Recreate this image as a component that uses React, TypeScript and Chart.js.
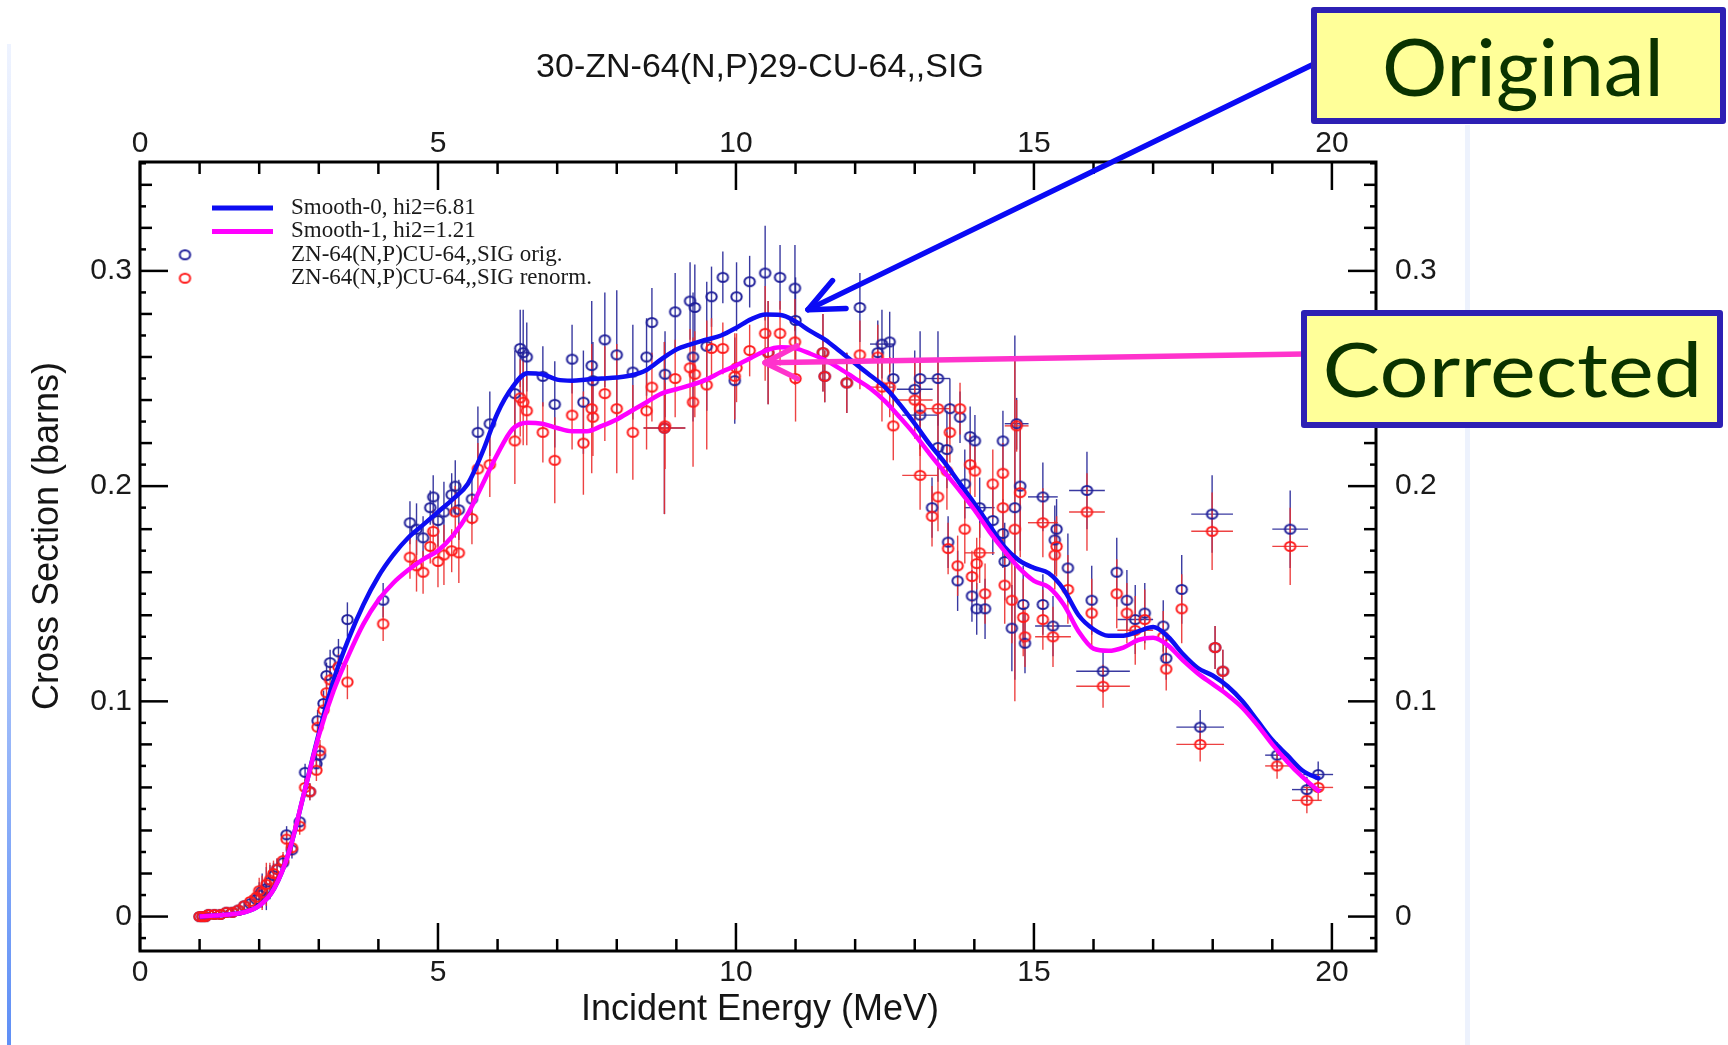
import React, { useEffect, useRef } from 'react';
import { Chart, registerables } from 'chart.js';

Chart.register(...registerables);

// ---------------- texts ----------------
const chartTitle = '30-ZN-64(N,P)29-CU-64,,SIG';
const xAxisTitle = 'Incident Energy (MeV)';
const yAxisTitle = 'Cross Section (barns)';
const legendLabels = [
  'Smooth-0, hi2=6.81',
  'Smooth-1, hi2=1.21',
  'ZN-64(N,P)CU-64,,SIG orig.',
  'ZN-64(N,P)CU-64,,SIG renorm.',
];
const annotationLabels = ['Original', 'Corrected'];
// arrow tips, in data units (energy, cross section)
const annotationTipE = [11.21, 10.49];
const annotationTipSig = [0.282, 0.2573];

// ---------------- axis ranges / ticks ----------------
const xRange = [0, 20.74];
const yRange = [-0.016, 0.3506];
const xMajorStep = 5;
const yMajorStep = 0.1;

// ---------------- smooth curves ----------------
const smoothEnergy = [
  1.0, 1.25, 1.5, 1.75, 2.0, 2.25, 2.5, 2.75, 3.0, 3.25,
  3.5, 3.75, 4.0, 4.25, 4.5, 4.75, 5.0, 5.25, 5.5, 5.75,
  6.0, 6.25, 6.5, 6.75, 7.0, 7.25, 7.5, 7.75, 8.0, 8.25,
  8.5, 8.75, 9.0, 9.25, 9.5, 9.75, 10.0, 10.25, 10.5, 10.75,
  11.0, 11.25, 11.5, 11.75, 12.0, 12.25, 12.5, 12.75, 13.0, 13.25,
  13.5, 13.75, 14.0, 14.25, 14.5, 14.75, 15.0, 15.25, 15.5, 15.75,
  16.0, 16.25, 16.5, 16.75, 17.0, 17.25, 17.5, 17.75, 18.0, 18.25,
  18.5, 18.75, 19.0, 19.25, 19.5, 19.75, 19.8,
];
const smooth0 = [
  0.0, 0.0005, 0.001, 0.002, 0.005, 0.013, 0.03, 0.057, 0.085, 0.11,
  0.129, 0.145, 0.158, 0.168, 0.176, 0.182, 0.188, 0.194, 0.201, 0.216,
  0.234, 0.246, 0.2525, 0.252, 0.2495, 0.249, 0.2495, 0.25, 0.2505, 0.2515,
  0.254, 0.259, 0.2635, 0.266, 0.268, 0.27, 0.2735, 0.2775, 0.2797, 0.2795,
  0.2765, 0.272, 0.268, 0.2625, 0.257, 0.2515, 0.246, 0.238, 0.229, 0.2195,
  0.211, 0.2015, 0.192, 0.182, 0.172, 0.1655, 0.162, 0.1595, 0.152, 0.14,
  0.1335, 0.1305, 0.1305, 0.1325, 0.1345, 0.13, 0.122, 0.1155, 0.112, 0.107,
  0.1, 0.091, 0.082, 0.075, 0.068, 0.0645, 0.064,
];
const smooth1 = [
  0.0, 0.0005, 0.001, 0.002, 0.005, 0.013, 0.03, 0.057, 0.084, 0.105,
  0.1215, 0.136, 0.147, 0.155, 0.161, 0.166, 0.17, 0.177, 0.187, 0.201,
  0.215, 0.2265, 0.2295, 0.229, 0.227, 0.2255, 0.2255, 0.228, 0.231, 0.235,
  0.239, 0.243, 0.245, 0.247, 0.2495, 0.253, 0.256, 0.2595, 0.263, 0.2645,
  0.264, 0.2615, 0.2585, 0.2545, 0.25, 0.2455, 0.2395, 0.232, 0.224, 0.215,
  0.2065, 0.198, 0.189, 0.179, 0.17, 0.162, 0.156, 0.153, 0.145, 0.1325,
  0.1245, 0.1235, 0.125, 0.1285, 0.1295, 0.126, 0.119, 0.113, 0.108, 0.103,
  0.097, 0.089, 0.08, 0.072, 0.065, 0.059, 0.058,
];

// ---------------- experimental data ----------------
const expEnergy = [
  1.0, 1.05, 1.1, 1.15, 1.25, 1.35, 1.45, 1.55, 1.65, 1.75,
  1.85, 1.95, 2.0, 2.05, 2.12, 2.18, 2.24, 2.3, 2.4, 2.46,
  2.55, 2.68, 2.77, 2.85, 2.96, 3.02, 2.98, 3.08, 3.13, 3.19,
  3.33, 3.48, 4.08, 4.53, 4.64, 4.75, 4.87, 4.92, 5.0, 5.1,
  5.23, 5.29, 5.35, 5.57, 5.67, 5.87, 6.29, 6.38, 6.43, 6.49,
  6.76, 6.96, 7.25, 7.44, 7.58, 7.6, 7.8, 8.0, 8.27, 8.5,
  8.59, 8.81, 8.8, 8.98, 9.23, 9.28, 9.31, 9.51, 9.59, 9.78,
  9.98, 10.01, 10.23, 10.49, 10.54, 10.74, 10.99, 11.0, 11.46, 11.49,
  11.86, 12.08, 12.38, 12.45, 12.58, 12.64, 13.0, 13.09, 13.09, 13.29,
  13.39, 13.39, 13.54, 13.56, 13.59, 13.72, 13.76, 13.84, 13.93, 13.96,
  14.01, 14.04, 14.09, 14.18, 14.31, 14.48, 14.48, 14.51, 14.63, 14.71,
  14.77, 14.68, 14.82, 14.85, 15.15, 15.15, 15.35, 15.38, 15.32, 15.57,
  15.89, 15.97, 16.16, 16.39, 16.56, 16.7, 16.86, 17.17, 17.22, 17.48,
  17.79, 17.99, 18.04, 18.17, 19.08, 19.3, 19.58, 19.77,
];
const sigOrig = [
  0.0, 0.0, 0.0, 0.001, 0.001, 0.001, 0.002, 0.002, 0.003, 0.005,
  0.006, 0.008, 0.01, 0.012, 0.013, 0.016, 0.019, 0.022, 0.025, 0.038,
  0.031, 0.044, 0.067, 0.058, 0.071, 0.075, 0.091, 0.099, 0.112, 0.118,
  0.123, 0.138, 0.147, 0.183, 0.18, 0.176, 0.19, 0.195, 0.184, 0.188,
  0.196, 0.2, 0.189, 0.194, 0.225, 0.229, 0.243, 0.264, 0.262, 0.26,
  0.251, 0.238, 0.259, 0.239, 0.256, 0.249, 0.268, 0.261, 0.253, 0.26,
  0.276, 0.252, 0.227, 0.281, 0.286, 0.26, 0.283, 0.265, 0.288, 0.297,
  0.249, 0.288, 0.295, 0.299, 0.262, 0.297, 0.292, 0.277, 0.262, 0.251,
  0.248, 0.283, 0.262, 0.266, 0.267, 0.25, 0.245, 0.25, 0.233, 0.19,
  0.25, 0.218, 0.217, 0.174, 0.236, 0.156, 0.232, 0.201, 0.223, 0.149,
  0.221, 0.143, 0.19, 0.143, 0.184, 0.221, 0.178, 0.165, 0.134, 0.229,
  0.2, 0.19, 0.145, 0.127, 0.195, 0.145, 0.175, 0.18, 0.135, 0.162,
  0.198, 0.147, 0.114, 0.16, 0.147, 0.138, 0.141, 0.135, 0.12, 0.152,
  0.088, 0.187, 0.125, 0.114, 0.075, 0.18, 0.059, 0.066,
];
const sigRenorm = [
  0.0, 0.0, 0.0, 0.001, 0.001, 0.001, 0.002, 0.002, 0.003, 0.005,
  0.007, 0.009, 0.012, 0.011, 0.015, 0.017, 0.02, 0.022, 0.026, 0.036,
  0.032, 0.042, 0.06, 0.058, 0.068, 0.077, 0.088, 0.096, 0.104, 0.11,
  0.116, 0.109, 0.136, 0.167, 0.163, 0.16, 0.172, 0.179, 0.165, 0.168,
  0.17, 0.188, 0.169, 0.185, 0.208, 0.21, 0.221, 0.241, 0.239, 0.235,
  0.225, 0.212, 0.233, 0.22, 0.236, 0.232, 0.243, 0.236, 0.225, 0.235,
  0.246, 0.228, 0.227, 0.25, 0.255, 0.239, 0.252, 0.247, 0.264, 0.264,
  0.251, 0.255, 0.263, 0.271, 0.262, 0.271, 0.267, 0.25, 0.262, 0.251,
  0.248, 0.261, 0.26, 0.246, 0.246, 0.228, 0.24, 0.236, 0.205, 0.186,
  0.236, 0.195, 0.207, 0.171, 0.225, 0.163, 0.236, 0.18, 0.21, 0.158,
  0.207, 0.164, 0.169, 0.15, 0.201, 0.206, 0.19, 0.154, 0.147, 0.228,
  0.197, 0.18, 0.139, 0.13, 0.183, 0.138, 0.168, 0.172, 0.13, 0.152,
  0.188, 0.141, 0.107, 0.15, 0.141, 0.133, 0.138, 0.13, 0.115, 0.143,
  0.08, 0.179, 0.125, 0.114, 0.07, 0.172, 0.054, 0.06,
];
const errSig = [
  0.001, 0.001, 0.001, 0.001, 0.001, 0.001, 0.001, 0.002, 0.002, 0.002,
  0.003, 0.004, 0.006, 0.008, 0.01, 0.008, 0.006, 0.005, 0.004, 0.004,
  0.004, 0.004, 0.004, 0.004, 0.005, 0.005, 0.005, 0.006, 0.006, 0.006,
  0.006, 0.008, 0.008, 0.01, 0.012, 0.01, 0.008, 0.01, 0.012, 0.014,
  0.01, 0.012, 0.014, 0.012, 0.012, 0.015, 0.02, 0.018, 0.02, 0.016,
  0.014, 0.02, 0.016, 0.024, 0.03, 0.018, 0.022, 0.03, 0.022, 0.018,
  0.016, 0.02, 0.04, 0.018, 0.018, 0.03, 0.02, 0.03, 0.014, 0.012,
  0.02, 0.016, 0.012, 0.022, 0.024, 0.015, 0.02, 0.02, 0.018, 0.012,
  0.014, 0.016, 0.015, 0.016, 0.014, 0.016, 0.018, 0.022, 0.016, 0.014,
  0.022, 0.016, 0.018, 0.012, 0.014, 0.014, 0.012, 0.016, 0.014, 0.012,
  0.012, 0.012, 0.014, 0.014, 0.016, 0.014, 0.016, 0.018, 0.02, 0.012,
  0.03, 0.08, 0.018, 0.014, 0.016, 0.014, 0.016, 0.014, 0.014, 0.016,
  0.018, 0.016, 0.01, 0.016, 0.014, 0.016, 0.014, 0.012, 0.01, 0.016,
  0.008, 0.018, 0.01, 0.01, 0.006, 0.018, 0.006, 0.006,
];
const errEnergy = [
  0, 0, 0, 0, 0, 0, 0, 0, 0, 0,
  0, 0, 0, 0, 0, 0, 0, 0, 0, 0,
  0, 0, 0, 0, 0, 0, 0, 0, 0, 0,
  0, 0, 0, 0, 0, 0, 0, 0, 0, 0,
  0, 0, 0, 0, 0, 0, 0, 0, 0, 0,
  0, 0, 0, 0, 0, 0, 0, 0, 0, 0,
  0, 0, 0.35, 0, 0, 0, 0, 0, 0, 0,
  0, 0, 0, 0, 0, 0, 0, 0, 0, 0,
  0, 0, 0, 0.2, 0, 0, 0.3, 0, 0.3, 0,
  0.2, 0, 0, 0, 0, 0, 0, 0, 0, 0,
  0, 0, 0.25, 0, 0, 0, 0, 0, 0, 0.2,
  0, 0, 0, 0, 0.25, 0, 0, 0, 0.3, 0,
  0.3, 0, 0.45, 0, 0, 0.3, 0, 0, 0, 0,
  0.4, 0.35, 0, 0, 0.2, 0.3, 0.25, 0.25,
];

// ---------------- colours ----------------
const blueLine = '#0d0df2';
const magentaLine = '#ff00ff';
const bluePoint = '#20209a';
const redPoint = '#ff1a1a';
const blueErr = 'rgba(35,35,150,0.9)';
const redErr = 'rgba(235,45,45,0.9)';

function makeRing(color: string): HTMLCanvasElement {
  const c = document.createElement('canvas');
  c.width = 15;
  c.height = 13;
  const g = c.getContext('2d')!;
  g.strokeStyle = color;
  g.lineWidth = 2;
  g.beginPath();
  g.ellipse(7.5, 6.5, 5.2, 4.5, 0, 0, Math.PI * 2);
  g.stroke();
  return c;
}

function seg(ctx: CanvasRenderingContext2D, x1: number, y1: number, x2: number, y2: number) {
  ctx.beginPath();
  ctx.moveTo(x1, y1);
  ctx.lineTo(x2, y2);
  ctx.stroke();
}

function fitText(
  ctx: CanvasRenderingContext2D, text: string, left: number, baseline: number,
  width: number, font: string, color: string,
) {
  ctx.save();
  ctx.font = font;
  ctx.fillStyle = color;
  ctx.textAlign = 'left';
  ctx.textBaseline = 'alphabetic';
  const m = ctx.measureText(text);
  const ink = m.actualBoundingBoxRight + m.actualBoundingBoxLeft;
  const sx = width / ink;
  ctx.translate(left, baseline);
  ctx.scale(sx, 1);
  ctx.fillText(text, m.actualBoundingBoxLeft, 0);
  ctx.restore();
}

function drawArrow(
  ctx: CanvasRenderingContext2D, sx: number, sy: number, tx: number, ty: number,
  color: string, width: number, armLen: number, armAngleDeg: number,
) {
  ctx.save();
  ctx.strokeStyle = color;
  ctx.lineWidth = width;
  ctx.lineCap = 'round';
  ctx.lineJoin = 'round';
  seg(ctx, sx, sy, tx, ty);
  const ang = Math.atan2(sy - ty, sx - tx);
  const a = (armAngleDeg * Math.PI) / 180;
  for (const s of [-1, 1]) {
    const b = ang + s * a;
    seg(ctx, tx, ty, tx + armLen * Math.cos(b), ty + armLen * Math.sin(b));
  }
  ctx.restore();
}

function drawBox(ctx: CanvasRenderingContext2D, x1: number, y1: number, x2: number, y2: number) {
  ctx.save();
  const bw = 6;
  ctx.fillStyle = '#ffff99';
  ctx.strokeStyle = '#2d20b4';
  ctx.lineWidth = bw;
  ctx.lineJoin = 'round';
  const x = x1 + bw / 2, y = y1 + bw / 2, w = x2 - x1 - bw, h = y2 - y1 - bw;
  ctx.beginPath();
  ctx.rect(x, y, w, h);
  ctx.fill();
  ctx.stroke();
  ctx.restore();
}

export default function App() {
  const ref = useRef<HTMLCanvasElement>(null);

  useEffect(() => {
    const canvas = ref.current;
    if (!canvas) return;
    const ringBlue = makeRing(bluePoint);
    const ringRed = makeRing(redPoint);

    const origPts = expEnergy.map((e, i) => ({ x: e, y: sigOrig[i] }));
    const renormPts = expEnergy.map((e, i) => ({ x: e, y: sigRenorm[i] }));
    const s0 = smoothEnergy.map((e, i) => ({ x: e, y: smooth0[i] }));
    const s1 = smoothEnergy.map((e, i) => ({ x: e, y: smooth1[i] }));

    const sans = '"Liberation Sans", Arial, sans-serif';

    const decor = {
      id: 'decor',
      beforeDraw(chart: any) {
        const { ctx, width, height } = chart;
        ctx.save();
        ctx.fillStyle = '#ffffff';
        ctx.fillRect(0, 0, width, height);
        const g = ctx.createLinearGradient(0, 44, 0, height);
        g.addColorStop(0, '#eef3ff');
        g.addColorStop(0.5, '#bcd0fb');
        g.addColorStop(1, '#5f8ff6');
        ctx.fillStyle = g;
        ctx.fillRect(7, 44, 4, height - 44);
        ctx.fillStyle = '#edf2fd';
        ctx.fillRect(1465, 125, 5, height - 125);
        ctx.restore();
      },
      beforeDatasetsDraw(chart: any) {
        const { ctx, chartArea } = chart;
        const xs = chart.scales.x;
        const ys = chart.scales.y;
        ctx.save();
        ctx.beginPath();
        ctx.rect(chartArea.left, chartArea.top, chartArea.right - chartArea.left, chartArea.bottom - chartArea.top);
        ctx.clip();
        ctx.lineWidth = 1.4;
        const series: [number[], string][] = [[sigOrig, blueErr], [sigRenorm, redErr]];
        for (const [vals, col] of series) {
          ctx.strokeStyle = col;
          for (let i = 0; i < expEnergy.length; i++) {
            const px = xs.getPixelForValue(expEnergy[i]);
            const py = ys.getPixelForValue(vals[i]);
            const dy = errSig[i];
            if (dy > 0) seg(ctx, px, ys.getPixelForValue(vals[i] + dy), px, ys.getPixelForValue(vals[i] - dy));
            const dx = errEnergy[i];
            if (dx > 0) seg(ctx, xs.getPixelForValue(expEnergy[i] - dx), py, xs.getPixelForValue(expEnergy[i] + dx), py);
          }
        }
        ctx.restore();
      },
      afterDatasetsDraw(chart: any) {
        const { ctx, chartArea } = chart;
        const { left, right, top, bottom } = chartArea;
        const xs = chart.scales.x;
        const ys = chart.scales.y;
        ctx.save();
        ctx.strokeStyle = '#000';
        ctx.lineWidth = 3;
        ctx.strokeRect(left, top, right - left, bottom - top);
        ctx.lineWidth = 2.5;
        for (let v = Math.ceil(xRange[0]); v <= Math.floor(xRange[1]); v++) {
          const px = xs.getPixelForValue(v);
          const len = v % xMajorStep === 0 ? 28 : 12;
          seg(ctx, px, bottom, px, bottom - len);
          seg(ctx, px, top, px, top + len);
        }
        for (let i = -1; i <= 35; i++) {
          const v = i / 100;
          const py = ys.getPixelForValue(v);
          const len = i % 10 === 0 ? 28 : i % 2 === 0 ? 12 : 6;
          seg(ctx, left, py, left + len, py);
          seg(ctx, right, py, right - len, py);
        }
        ctx.restore();
      },
      afterDraw(chart: any) {
        const { ctx } = chart;
        const xs = chart.scales.x;
        const ys = chart.scales.y;
        ctx.save();
        // title
        ctx.fillStyle = '#151515';
        ctx.font = `34px ${sans}`;
        ctx.textAlign = 'center';
        ctx.textBaseline = 'alphabetic';
        ctx.fillText(chartTitle, 760, 77);
        // axis titles
        ctx.font = `36px ${sans}`;
        ctx.fillText(xAxisTitle, 760, 1020);
        ctx.save();
        ctx.translate(58, 536);
        ctx.rotate(-Math.PI / 2);
        ctx.fillText(yAxisTitle, 0, 0);
        ctx.restore();
        // legend
        ctx.font = '23px "Liberation Serif", "Times New Roman", serif';
        ctx.textAlign = 'left';
        ctx.textBaseline = 'middle';
        const rows = [208, 231.4, 254.8, 278.2];
        ctx.lineWidth = 5;
        ctx.strokeStyle = blueLine;
        seg(ctx, 212, rows[0], 273, rows[0]);
        ctx.strokeStyle = magentaLine;
        seg(ctx, 212, rows[1], 273, rows[1]);
        ctx.drawImage(ringBlue, 185 - 7.5, rows[2] - 6.5);
        ctx.drawImage(ringRed, 185 - 7.5, rows[3] - 6.5);
        ctx.fillStyle = '#1a1a1a';
        legendLabels.forEach((t, i) => ctx.fillText(t, 291, rows[i]));
        // annotations
        const tip0x = xs.getPixelForValue(annotationTipE[0]);
        const tip0y = ys.getPixelForValue(annotationTipSig[0]);
        const tip1x = xs.getPixelForValue(annotationTipE[1]);
        const tip1y = ys.getPixelForValue(annotationTipSig[1]);
        drawArrow(ctx, 1314, 64, tip0x, tip0y, '#0a0af5', 5.5, 38, 24);
        drawArrow(ctx, 1304, 354, tip1x, tip1y, '#ff33cc', 5.5, 36, 27);
        drawBox(ctx, 1311, 7, 1726, 124);
        drawBox(ctx, 1301, 310, 1723, 428);
        fitText(ctx, annotationLabels[0], 1385, 96, 273, '79px Lato, "Open Sans", sans-serif', '#0a3300');
        fitText(ctx, annotationLabels[1], 1326, 397, 371, '76px Lato, "Open Sans", sans-serif', '#0a3300');
        ctx.restore();
      },
    };

    const tickFont = { family: sans, size: 30 };
    const xTicks = (padding: number) => ({
      stepSize: xMajorStep,
      includeBounds: false,
      autoSkip: false,
      maxRotation: 0,
      padding,
      font: tickFont,
      color: '#1a1a1a',
      callback: (v: any) => String(v),
    });
    const yTicks = (padding: number) => ({
      stepSize: yMajorStep,
      includeBounds: false,
      autoSkip: false,
      padding,
      font: tickFont,
      color: '#1a1a1a',
      callback: (v: any) => (Math.abs(v) < 1e-9 ? '0' : Number(v).toFixed(1)),
    });
    const noGrid = { display: false, drawTicks: false, tickLength: 0 };

    const chart = new Chart(canvas, {
      type: 'scatter',
      data: {
        datasets: [
          {
            label: legendLabels[1],
            data: s1,
            showLine: true,
            borderColor: magentaLine,
            borderWidth: 4.5,
            pointRadius: 0,
            cubicInterpolationMode: 'monotone',
            order: 0,
          } as any,
          {
            label: legendLabels[0],
            data: s0,
            showLine: true,
            borderColor: blueLine,
            borderWidth: 4.5,
            pointRadius: 0,
            cubicInterpolationMode: 'monotone',
            order: 1,
          } as any,
          {
            label: legendLabels[3],
            data: renormPts,
            pointStyle: ringRed,
            pointRadius: 5,
            order: 2,
          } as any,
          {
            label: legendLabels[2],
            data: origPts,
            pointStyle: ringBlue,
            pointRadius: 5,
            order: 3,
          } as any,
        ],
      },
      options: {
        responsive: false,
        animation: false,
        devicePixelRatio: 1,
        layout: { padding: 0 },
        events: [],
        plugins: {
          legend: { display: false },
          title: { display: false },
          tooltip: { enabled: false },
        },
        scales: {
          x: {
            type: 'linear', position: 'bottom', min: xRange[0], max: xRange[1],
            grid: noGrid, border: { display: false }, ticks: xTicks(4),
            afterFit: (s: any) => { s.height = 94; },
          },
          x2: {
            type: 'linear', position: 'top', min: xRange[0], max: xRange[1],
            grid: noGrid, border: { display: false }, ticks: xTicks(0),
            afterFit: (s: any) => { s.height = 162; },
          },
          y: {
            type: 'linear', position: 'left', min: yRange[0], max: yRange[1],
            grid: noGrid, border: { display: false }, ticks: yTicks(8),
            afterFit: (s: any) => { s.width = 140; },
          },
          y2: {
            type: 'linear', position: 'right', min: yRange[0], max: yRange[1],
            grid: noGrid, border: { display: false }, ticks: yTicks(19),
            afterFit: (s: any) => { s.width = 352; },
          },
        } as any,
      },
      plugins: [decor as any],
    } as any);

    return () => chart.destroy();
  }, []);

  return (
    <div style={{ position: 'fixed', left: 0, top: 0, width: 1728, height: 1045, background: '#fff' }}>
      <canvas ref={ref} width={1728} height={1045} style={{ display: 'block', width: 1728, height: 1045 }} />
    </div>
  );
}
